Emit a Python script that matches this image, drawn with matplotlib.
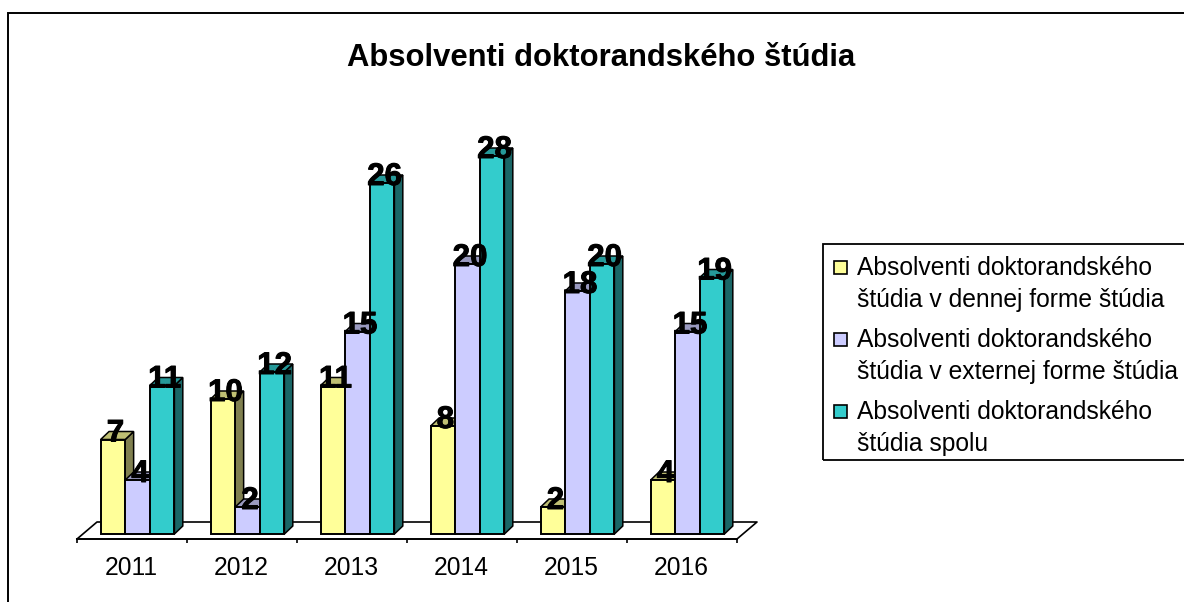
import matplotlib
matplotlib.use('Agg')
import matplotlib.pyplot as plt
import matplotlib.patheffects as pe
from matplotlib.patches import Rectangle

plt.rcParams['font.family'] = ['Liberation Sans', 'DejaVu Sans']

# data
years = ['2011', '2012', '2013', '2014', '2015', '2016']
denna = [7, 10, 11, 8, 2, 4]
externa = [4, 2, 15, 20, 18, 15]
spolu = [11, 12, 26, 28, 20, 19]
legend_labels = ['Absolventi doktorandského\nštúdia v dennej forme štúdia',
                 'Absolventi doktorandského\nštúdia v externej forme štúdia',
                 'Absolventi doktorandského\nštúdia spolu']
title = 'Absolventi doktorandského štúdia'

W, H = 1184, 602
PX_X = 110.0    # pixels per category
PX_Y = 13.5     # pixels per unit
BASE = 534      # pixel row of value 0

fig = plt.figure(figsize=(W / 100, H / 100), dpi=100)
fig.patch.set_facecolor('white')

# outer chart border, runs off the right and bottom edge
fig.add_artist(Rectangle((8 / W, -0.1), 1.2, (H - 13) / H + 0.1, transform=fig.transFigure,
                         fill=False, ec='black', lw=1.4))

ax = fig.add_axes([77 / W, (H - 539) / H, 660 / W, 439 / H])
ax.set_xlim(0, 6)
ax.set_ylim(-5 / PX_Y, (BASE - 100) / PX_Y)
ax.patch.set_alpha(0)
for s in ['top', 'left', 'right']:
    ax.spines[s].set_visible(False)
ax.spines['bottom'].set_linewidth(1.4)
ax.set_yticks([])
ax.set_xticks(range(7))
ax.set_xticklabels([])
ax.tick_params(axis='x', length=3, width=1.2, direction='out')
ax.set_xticks([i + 0.49 for i in range(6)], minor=True)
ax.set_xticklabels(years, minor=True, fontsize=17.7)
ax.tick_params(axis='x', which='minor', length=0, pad=12)

# floor of the 3D box
floor_dx = 20 / PX_X
floor_dy = 17 / PX_Y
y0 = -5 / PX_Y
ax.plot([0, floor_dx, 6 + floor_dx, 6], [y0, y0 + floor_dy, y0 + floor_dy, y0],
        color='black', lw=1.2, clip_on=False, zorder=1)

series = [denna, externa, spolu]
front = ['#FFFF99', '#CCCCFF', '#33CCCC']
top = ['#BFBF73', '#9999BF', '#269999']
side = ['#808050', '#666680', '#1A6666']

bar_w = 0.2235
start = 0.215
dx = 8.4 / PX_X
dy = 8 / PX_Y

for i in range(len(years)):
    for j, vals in enumerate(series):
        v = vals[i]
        x0 = i + start + j * bar_w
        x1 = x0 + bar_w
        ax.fill([x1, x1 + dx, x1 + dx, x1], [0, dy, v + dy, v], fc=side[j], ec='black',
                lw=1.1, clip_on=False, zorder=2)
        ax.fill([x0, x1, x1 + dx, x0 + dx], [v, v, v + dy, v + dy], fc=top[j], ec='black',
                lw=1.1, clip_on=False, zorder=2)
        ax.bar(x0, v, bar_w, align='edge', color=front[j], edgecolor='black', lw=1.4,
               clip_on=False, zorder=2)

# data labels sit over everything
for j, vals in enumerate(series):
    for i, v in enumerate(vals):
        xc = i + start + (j + 0.5) * bar_w + 2.5 / PX_X
        ax.text(xc, v + 6 / PX_Y, str(v), ha='center', va='center', fontsize=22.5,
                fontweight='bold', color='black', zorder=5, clip_on=False,
                path_effects=[pe.withStroke(linewidth=0.7, foreground='black')])

fig.text(601 / W, 1 - 58 / H, title, ha='center', va='center', fontsize=22.3, fontweight='bold')

# legend box runs off the right edge like in the original
fig.add_artist(Rectangle((823 / W, 1 - 460 / H), 0.5, 216 / H, transform=fig.transFigure,
                         fill=False, ec='black', lw=1.3))
for k, lab in enumerate(legend_labels):
    row = 267 + 72 * k
    fig.add_artist(Rectangle((833.5 / W, 1 - (row + 7) / H), 13 / W, 13 / H,
                             transform=fig.transFigure, fc=front[k], ec='black', lw=1.2))
    fig.text(857 / W, 1 - (row + 17) / H, lab, ha='left', va='center', fontsize=17.7,
             linespacing=1.39)

fig.savefig('out.png', dpi=100)
